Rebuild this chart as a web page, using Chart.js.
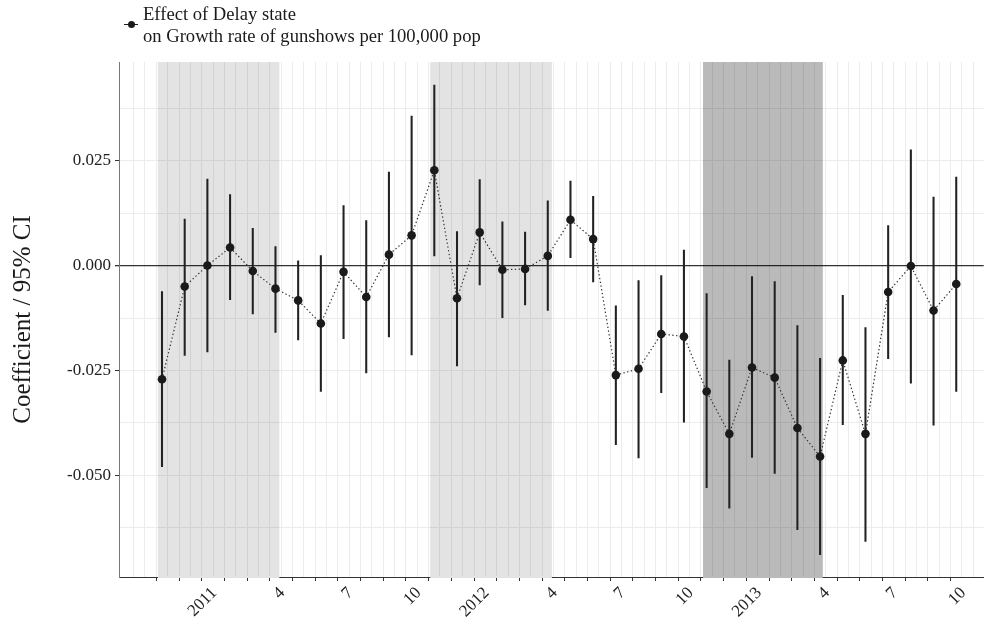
<!DOCTYPE html>
<html>
<head>
<meta charset="utf-8">
<script src="https://cdn.jsdelivr.net/npm/chart.js@4.4.1/dist/chart.umd.min.js"></script>
<style>
  body { margin: 0; background: #fff; }
  #wrap { position: relative; width: 988px; height: 621px; }
  #legend { position: absolute; left: 0; top: 0; font-family: "Liberation Serif", serif; color: #1a1a1a; }
  #legend .line { position: absolute; left: 124px; top: 24px; width: 14px; height: 1.3px; background: #1a1a1a; }
  #legend .dot { position: absolute; left: 127.5px; top: 21px; width: 7px; height: 7px; border-radius: 50%; background: #1a1a1a; }
  #legend .txt { position: absolute; left: 143px; top: 3px; font-size: 18.6px; line-height: 22px; white-space: nowrap; }
</style>
</head>
<body>
<div id="wrap">
  <canvas id="chart" width="988" height="621"></canvas>
  <div id="legend">
    <span class="line"></span><span class="dot"></span>
    <div class="txt">Effect of Delay state<br>on Growth rate of gunshows per 100,000 pop</div>
  </div>
</div>
<script>
// months Nov 2010 .. Oct 2013 (one estimate each)
const months = [
  '2010-11', '2010-12', '2011-01', '2011-02', '2011-03', '2011-04',
  '2011-05', '2011-06', '2011-07', '2011-08', '2011-09', '2011-10',
  '2011-11', '2011-12', '2012-01', '2012-02', '2012-03', '2012-04',
  '2012-05', '2012-06', '2012-07', '2012-08', '2012-09', '2012-10',
  '2012-11', '2012-12', '2013-01', '2013-02', '2013-03', '2013-04',
  '2013-05', '2013-06', '2013-07', '2013-08', '2013-09', '2013-10'
];
const coef = [
  -0.0271, -0.0050, 0.0000, 0.0043, -0.0013, -0.0055,
  -0.0083, -0.0138, -0.0015, -0.0075, 0.0026, 0.0072,
  0.0227, -0.0078, 0.0079, -0.0010, -0.0008, 0.0023,
  0.0109, 0.0063, -0.0261, -0.0246, -0.0163, -0.0169,
  -0.0300, -0.0401, -0.0243, -0.0267, -0.0387, -0.0455,
  -0.0226, -0.0401, -0.0063, -0.0001, -0.0107, -0.0044
];
const ciLow = [
  -0.0479, -0.0214, -0.0206, -0.0081, -0.0115, -0.0159,
  -0.0177, -0.0300, -0.0174, -0.0256, -0.0170, -0.0213,
  0.0023, -0.0239, -0.0046, -0.0124, -0.0094, -0.0107,
  0.0019, -0.0039, -0.0427, -0.0458, -0.0303, -0.0373,
  -0.0529, -0.0578, -0.0457, -0.0495, -0.0629, -0.0689,
  -0.0379, -0.0657, -0.0222, -0.0280, -0.0380, -0.0300
];
const ciHigh = [
  -0.0062, 0.0111, 0.0206, 0.0169, 0.0089, 0.0045,
  0.0011, 0.0024, 0.0143, 0.0107, 0.0223, 0.0356,
  0.0430, 0.0081, 0.0205, 0.0104, 0.0080, 0.0154,
  0.0201, 0.0165, -0.0096, -0.0036, -0.0024, 0.0037,
  -0.0067, -0.0225, -0.0026, -0.0038, -0.0143, -0.0221,
  -0.0071, -0.0148, 0.0095, 0.0276, 0.0163, 0.0211
];
// shaded periods, in month index units (0 = Nov 2010)
const shadeFrom = [-0.18, 11.82, 23.84];
const shadeTo = [5.17, 17.18, 29.12];
const shadeAlpha = [0.11, 0.11, 0.27];

const yLabelTicks = [-0.05, -0.025, 0, 0.025];
const yGridTicks = [-0.0625, -0.05, -0.0375, -0.025, -0.0125, 0, 0.0125, 0.025, 0.0375];

const FONT = '"Liberation Serif", serif';
const CLEAR = 'rgba(0,0,0,0)';

function monthLabel(i) {
  if (!Number.isInteger(i) || i < 0 || i >= months.length) return '';
  let [yy, mm] = months[i].split('-');
  if (mm === '01') return yy;
  if (mm === '04' || mm === '07' || mm === '10') return String(Number(mm));
  return '';
}
function isMonth(v) {
  return Number.isInteger(v) && v >= 0 && v < months.length;
}
function isLabelled(v) {
  return yLabelTicks.some(t => Math.abs(t - v) < 1e-9);
}

// grey rectangles behind the estimates; they also hide the x axis line
const shadePlugin = {
  id: 'shades',
  beforeDatasetsDraw(chart) {
    const ctx = chart.ctx;
    const area = chart.chartArea;
    const xs = chart.scales.x;
    ctx.save();
    shadeFrom.forEach((from, k) => {
      let x0 = xs.getPixelForValue(from);
      let x1 = xs.getPixelForValue(shadeTo[k]);
      ctx.fillStyle = `rgba(0,0,0,${shadeAlpha[k]})`;
      ctx.fillRect(x0, area.top, x1 - x0, area.bottom - area.top);
      let g = Math.round(255 * (1 - shadeAlpha[k]));
      ctx.fillStyle = `rgb(${g},${g},${g})`;
      ctx.fillRect(x0, area.bottom - 1, x1 - x0, 2);
    });
    ctx.restore();
  }
};

new Chart(document.getElementById('chart'), {
  type: 'line',
  data: {
    datasets: [{
      type: 'line',
      data: coef.map((v, i) => ({x: i, y: v})),
      borderColor: '#333',
      borderWidth: 1.2,
      borderDash: [1.4, 2.4],
      pointRadius: 4.3,
      pointBackgroundColor: '#1a1a1a',
      pointBorderWidth: 0,
      order: 0
    }, {
      type: 'bar',
      data: coef.map((v, i) => ({x: i, y: [ciLow[i], ciHigh[i]]})),
      backgroundColor: '#222',
      borderWidth: 0,
      barThickness: 1.4,
      order: 1
    }]
  },
  options: {
    responsive: false,
    animation: false,
    devicePixelRatio: 1,
    layout: { padding: { top: 62, left: 0, right: 0, bottom: 0 } },
    plugins: { legend: { display: false }, tooltip: { enabled: false } },
    scales: {
      x: {
        type: 'linear',
        min: -1.895,
        max: 36.21,
        offset: false,
        afterBuildTicks: (scale) => {
          let t = [];
          for (let v = -1; v <= 36; v += 0.5) t.push({value: v});
          scale.ticks = t;
        },
        afterFit: (scale) => {
          scale.height = 44;
          scale.paddingLeft = 0;
          scale.paddingRight = 0;
        },
        ticks: {
          autoSkip: false,
          minRotation: 45,
          maxRotation: 45,
          labelOffset: 7,
          padding: 2,
          color: '#222',
          font: { family: FONT, size: 17 },
          callback: (v) => monthLabel(v)
        },
        grid: {
          color: '#ececec',
          lineWidth: 1,
          tickLength: 4,
          tickWidth: 1,
          tickColor: (c) => (c.tick && isMonth(c.tick.value)) ? '#333' : CLEAR
        },
        border: { color: '#333', width: 1 }
      },
      y: {
        type: 'linear',
        min: -0.0742,
        max: 0.0485,
        afterBuildTicks: (scale) => {
          scale.ticks = yGridTicks.map(v => ({value: v}));
        },
        afterFit: (scale) => { scale.width = 119; },
        ticks: {
          padding: 4,
          color: '#222',
          font: { family: FONT, size: 17 },
          callback: (v) => isLabelled(v) ? v.toFixed(3) : ''
        },
        grid: {
          color: (c) => (c.tick && Math.abs(c.tick.value) < 1e-9) ? '#333' : '#ececec',
          lineWidth: (c) => (c.tick && Math.abs(c.tick.value) < 1e-9) ? 1.3 : 1,
          tickLength: 4,
          tickColor: (c) => (c.tick && isLabelled(c.tick.value)) ? '#333' : CLEAR
        },
        border: { color: '#777', width: 1 },
        title: {
          display: true,
          text: 'Coefficient / 95% CI',
          color: '#1a1a1a',
          font: { family: FONT, size: 25 },
          padding: { top: 8, bottom: 0 }
        }
      }
    }
  },
  plugins: [shadePlugin]
});
</script>
</body>
</html>
